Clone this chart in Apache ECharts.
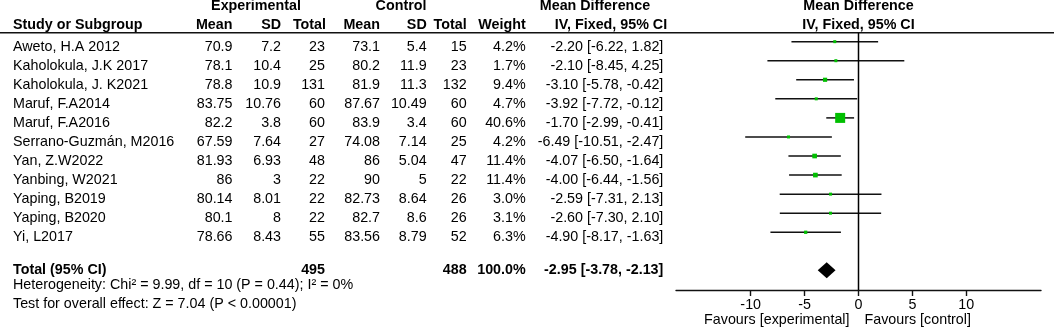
<!DOCTYPE html>
<html>
<head>
<meta charset="utf-8">
<script src="https://cdn.jsdelivr.net/npm/echarts@6/dist/echarts.min.js"></script>
<style>
html,body{margin:0;padding:0;background:#fff;}
#c{width:1056px;height:333px;}
</style>
</head>
<body>
<div id="c"></div>
<script>
// ---- data ----
const studies = ['Aweto, H.A 2012','Kaholokula, J.K 2017','Kaholokula, J. K2021','Maruf, F.A2014','Maruf, F.A2016','Serrano-Guzmán, M2016','Yan, Z.W2022','Yanbing, W2021','Yaping, B2019','Yaping, B2020','Yi, L2017'];
const expMean = [70.9,78.1,78.8,83.75,82.2,67.59,81.93,86,80.14,80.1,78.66];
const expSD = [7.2,10.4,10.9,10.76,3.8,7.64,6.93,3,8.01,8,8.43];
const expN = [23,25,131,60,60,27,48,22,22,22,55];
const ctrlMean = [73.1,80.2,81.9,87.67,83.9,74.08,86,90,82.73,82.7,83.56];
const ctrlSD = [5.4,11.9,11.3,10.49,3.4,7.14,5.04,5,8.64,8.6,8.79];
const ctrlN = [15,23,132,60,60,25,47,22,26,26,52];
const weight = [4.2,1.7,9.4,4.7,40.6,4.2,11.4,11.4,3.0,3.1,6.3];
const md = [-2.20,-2.10,-3.10,-3.92,-1.70,-6.49,-4.07,-4.00,-2.59,-2.60,-4.90];
const ciLo = [-6.22,-8.45,-5.78,-7.72,-2.99,-10.51,-6.50,-6.44,-7.31,-7.30,-8.17];
const ciHi = [1.82,4.25,-0.42,-0.12,-0.41,-2.47,-1.64,-1.56,2.13,2.10,-1.63];
const totalLabel = 'Total (95% CI)';
const totalExpN = 495, totalCtrlN = 488, totalWeight = 100.0;
const totalMD = -2.95, totalLo = -3.78, totalHi = -2.13;
const heterogeneity = 'Heterogeneity: Chi² = 9.99, df = 10 (P = 0.44); I² = 0%';
const overallEffect = 'Test for overall effect: Z = 7.04 (P < 0.00001)';
const tickValues = [-10,-5,0,5,10];
const noEffect = 0;
const favoursLeft = 'Favours [experimental]';
const favoursRight = 'Favours [control]';
const totalRow = 12;
const rowMin = -0.47, rowMax = 13.03;

// ---- style ----
const FONT = '"Liberation Sans", Arial, sans-serif';
const FS = 14.3;
const GREEN = '#00bf00';
const INK = '#111';

const chart = echarts.init(document.getElementById('c'), null, {renderer:'canvas'});

const studyData = studies.map((s,i)=>[md[i], i, ciLo[i], ciHi[i], weight[i]]);

function fmtCI(m,l,h){ return m.toFixed(2)+' ['+l.toFixed(2)+', '+h.toFixed(2)+']'; }

const option = {
  animation:false,
  backgroundColor:'#fff',
  grid:{left:676, right:15, top:32.7, bottom:43, containLabel:false, outerBoundsMode:'none'},
  xAxis:{
    type:'value', min:-16.93, max:16.93,
    axisLine:{show:true, onZero:false, lineStyle:{color:INK, width:1.4}},
    axisTick:{show:true, length:6, customValues:tickValues, lineStyle:{color:INK, width:1.4}},
    axisLabel:{show:true, customValues:tickValues, color:'#000', fontSize:FS, fontFamily:FONT, margin:8},
    splitLine:{show:false}
  },
  yAxis:{
    type:'value', inverse:true, min:rowMin, max:rowMax,
    axisLine:{show:false}, axisTick:{show:false}, axisLabel:{show:false}, splitLine:{show:false}
  },
  series:[
    {
      // line of no effect
      type:'line', data:[[noEffect, rowMin],[noEffect, rowMax]],
      symbol:'none', silent:true, z:3,
      lineStyle:{color:'#000', width:1.5}
    },
    {
      type:'custom', data:studyData, clip:false,
      renderItem:function(params, api){
        const row = api.value(1);
        const p0 = api.coord([api.value(2), row]);
        const p1 = api.coord([api.value(3), row]);
        const pm = api.coord([api.value(0), row]);
        const w = api.value(4);
        const s = Math.max(3, 10*Math.pow(w/40.6, 0.6));
        return {type:'group', children:[
          {type:'line', shape:{x1:p0[0], y1:p0[1], x2:p1[0], y2:p1[1]}, style:{stroke:INK, lineWidth:1.5}},
          {type:'rect', shape:{x:pm[0]-s/2, y:pm[1]-s/2, width:s, height:s}, style:{fill:GREEN}}
        ]};
      }
    },
    {
      type:'custom', data:[[totalMD, totalRow, totalLo, totalHi]], clip:false,
      renderItem:function(params, api){
        const row = api.value(1);
        const pl = api.coord([api.value(2), row]);
        const pr = api.coord([api.value(3), row]);
        const pm = api.coord([api.value(0), row]);
        const h = 8;
        return {type:'polygon', shape:{points:[[pl[0],pl[1]],[pm[0],pm[1]-h],[pr[0],pr[1]],[pm[0],pm[1]+h]]}, style:{fill:'#000'}};
      }
    }
  ]
};
chart.setOption(option);

// ---- table text ----
function txt(text, x, y, align, bold){
  return {type:'text', x:x, y:y, silent:true, style:{text:text, fill:'#000', font:(bold?'bold ':'')+FS+'px '+FONT, textAlign:align, align:align, textVerticalAlign:'middle', verticalAlign:'middle'}};
}
const g = [];
// header rule
g.push({type:'line', shape:{x1:0, y1:32.7, x2:1054, y2:32.7}, style:{stroke:INK, lineWidth:1.4}});
const x0 = chart.convertToPixel({xAxisIndex:0}, noEffect);
// header rows
const hA = 6.5, hB = 25.5;
g.push(txt('Experimental', 256, hA, 'center', true));
g.push(txt('Control', 401, hA, 'center', true));
g.push(txt('Mean Difference', 595, hA, 'center', true));
g.push(txt('Mean Difference', 858.5, hA, 'center', true));
g.push(txt('Study or Subgroup', 13, hB, 'left', true));
g.push(txt('Mean', 232.5, hB, 'right', true));
g.push(txt('SD', 281, hB, 'right', true));
g.push(txt('Total', 326, hB, 'right', true));
g.push(txt('Mean', 380, hB, 'right', true));
g.push(txt('SD', 426.7, hB, 'right', true));
g.push(txt('Total', 466.7, hB, 'right', true));
g.push(txt('Weight', 525.7, hB, 'right', true));
g.push(txt('IV, Fixed, 95% CI', 611, hB, 'center', true));
g.push(txt('IV, Fixed, 95% CI', 858.5, hB, 'center', true));

const cols = [232.5, 281, 325, 380, 426.7, 466.7, 525.7, 663.3];
studies.forEach((s,i)=>{
  const y = chart.convertToPixel({yAxisIndex:0}, i) + 5;
  g.push(txt(s, 13, y, 'left', false));
  const vals = [String(expMean[i]), String(expSD[i]), String(expN[i]), String(ctrlMean[i]), String(ctrlSD[i]), String(ctrlN[i]), weight[i].toFixed(1)+'%', fmtCI(md[i], ciLo[i], ciHi[i])];
  vals.forEach((v,j)=>g.push(txt(v, cols[j], y, 'right', false)));
});
const yT = chart.convertToPixel({yAxisIndex:0}, totalRow);
g.push(txt(totalLabel, 13, yT, 'left', true));
g.push(txt(String(totalExpN), cols[2], yT, 'right', true));
g.push(txt(String(totalCtrlN), cols[5], yT, 'right', true));
g.push(txt(totalWeight.toFixed(1)+'%', cols[6], yT, 'right', true));
g.push(txt(fmtCI(totalMD, totalLo, totalHi), cols[7], yT, 'right', true));
g.push(txt(heterogeneity, 13, 285.5, 'left', false));
g.push(txt(overallEffect, 13, 304.5, 'left', false));
g.push(txt(favoursLeft, x0 - 9, 320.5, 'right', false));
g.push(txt(favoursRight, x0 + 6, 320.5, 'left', false));

chart.setOption({graphic:{elements:g}});
</script>
</body>
</html>
